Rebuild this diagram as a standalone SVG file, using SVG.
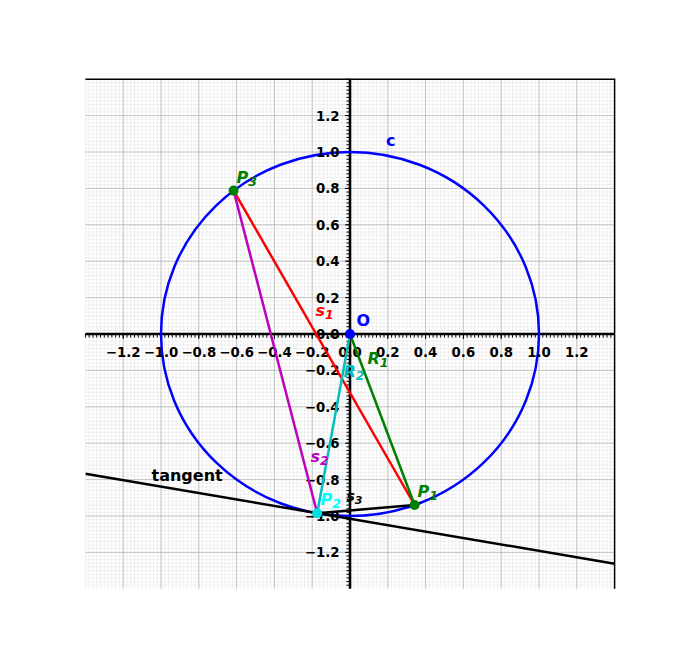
<svg xmlns="http://www.w3.org/2000/svg" xmlns:xlink="http://www.w3.org/1999/xlink" width="683" height="661" viewBox="0 0 683 661">
<style>
.mg{stroke:#e2e2e2;stroke-width:0.5;fill:none}
.Mg{stroke:#b8b8b8;stroke-width:0.8;fill:none}
.tk{stroke:#000;stroke-width:1;fill:none}
.tl{font-family:"DejaVu Sans",sans-serif;font-weight:bold;font-size:13.3px;fill:#000}
.xl{text-anchor:middle}
.yl{text-anchor:end}
.lb{font-family:"DejaVu Sans",sans-serif;font-weight:bold;font-size:16px}
.it{font-style:italic}
.sb{font-size:12.5px}
.seg{stroke-width:2.5;fill:none;stroke-linecap:butt}
</style>
<defs>
<clipPath id="ax"><rect x="85.4" y="79.2" width="529.2" height="509.6"/></clipPath>
<path id="mx" d="M0 0v509.6M3.78 0v509.6M7.56 0v509.6M11.34 0v509.6M15.12 0v509.6M18.9 0v509.6M22.68 0v509.6M26.46 0v509.6M30.24 0v509.6M34.02 0v509.6"/>
<path id="my" d="M0 0h529.2M0 3.64h529.2M0 7.28h529.2M0 10.92h529.2M0 14.56h529.2M0 18.2h529.2M0 21.84h529.2M0 25.48h529.2M0 29.12h529.2M0 32.76h529.2"/>
<path id="tx" d="M0 0v3.5M3.78 0v3.5M7.56 0v3.5M11.34 0v3.5M15.12 0v3.5M18.9 0v3.5M22.68 0v3.5M26.46 0v3.5M30.24 0v3.5M34.02 0v3.5"/>
<path id="ty" d="M0 0h-3.5M0 3.64h-3.5M0 7.28h-3.5M0 10.92h-3.5M0 14.56h-3.5M0 18.2h-3.5M0 21.84h-3.5M0 25.48h-3.5M0 29.12h-3.5M0 32.76h-3.5"/>
</defs>
<rect width="683" height="661" fill="#fff"/>
<g id="grid">
<g class="mg">
<use xlink:href="#mx" x="85.4" y="79.2"/><use xlink:href="#mx" x="123.2" y="79.2"/><use xlink:href="#mx" x="161" y="79.2"/><use xlink:href="#mx" x="198.8" y="79.2"/><use xlink:href="#mx" x="236.6" y="79.2"/><use xlink:href="#mx" x="274.4" y="79.2"/><use xlink:href="#mx" x="312.2" y="79.2"/><use xlink:href="#mx" x="350" y="79.2"/><use xlink:href="#mx" x="387.8" y="79.2"/><use xlink:href="#mx" x="425.6" y="79.2"/><use xlink:href="#mx" x="463.4" y="79.2"/><use xlink:href="#mx" x="501.2" y="79.2"/><use xlink:href="#mx" x="539" y="79.2"/><use xlink:href="#mx" x="576.8" y="79.2"/>
<use xlink:href="#my" x="85.4" y="79.2"/><use xlink:href="#my" x="85.4" y="115.6"/><use xlink:href="#my" x="85.4" y="152"/><use xlink:href="#my" x="85.4" y="188.4"/><use xlink:href="#my" x="85.4" y="224.8"/><use xlink:href="#my" x="85.4" y="261.2"/><use xlink:href="#my" x="85.4" y="297.6"/><use xlink:href="#my" x="85.4" y="334"/><use xlink:href="#my" x="85.4" y="370.4"/><use xlink:href="#my" x="85.4" y="406.8"/><use xlink:href="#my" x="85.4" y="443.2"/><use xlink:href="#my" x="85.4" y="479.6"/><use xlink:href="#my" x="85.4" y="516"/><use xlink:href="#my" x="85.4" y="552.4"/>
</g>
<path class="Mg" d="M123.2 79.2V588.8M161 79.2V588.8M198.8 79.2V588.8M236.6 79.2V588.8M274.4 79.2V588.8M312.2 79.2V588.8M387.8 79.2V588.8M425.6 79.2V588.8M463.4 79.2V588.8M501.2 79.2V588.8M539 79.2V588.8M576.8 79.2V588.8M85.4 115.6H614.6M85.4 152H614.6M85.4 188.4H614.6M85.4 224.8H614.6M85.4 261.2H614.6M85.4 297.6H614.6M85.4 370.4H614.6M85.4 406.8H614.6M85.4 443.2H614.6M85.4 479.6H614.6M85.4 516H614.6M85.4 552.4H614.6"/>
</g>
<g id="axes">
<path d="M85.4 334H614.6M350 79.2V588.8" stroke="#000" stroke-width="2.6" fill="none"/>
<g class="tk" stroke-width="0.8">
<use xlink:href="#tx" x="85.4" y="334"/><use xlink:href="#tx" x="123.2" y="334"/><use xlink:href="#tx" x="161" y="334"/><use xlink:href="#tx" x="198.8" y="334"/><use xlink:href="#tx" x="236.6" y="334"/><use xlink:href="#tx" x="274.4" y="334"/><use xlink:href="#tx" x="312.2" y="334"/><use xlink:href="#tx" x="350" y="334"/><use xlink:href="#tx" x="387.8" y="334"/><use xlink:href="#tx" x="425.6" y="334"/><use xlink:href="#tx" x="463.4" y="334"/><use xlink:href="#tx" x="501.2" y="334"/><use xlink:href="#tx" x="539" y="334"/><use xlink:href="#tx" x="576.8" y="334"/>
<use xlink:href="#ty" x="350" y="79.2"/><use xlink:href="#ty" x="350" y="115.6"/><use xlink:href="#ty" x="350" y="152"/><use xlink:href="#ty" x="350" y="188.4"/><use xlink:href="#ty" x="350" y="224.8"/><use xlink:href="#ty" x="350" y="261.2"/><use xlink:href="#ty" x="350" y="297.6"/><use xlink:href="#ty" x="350" y="334"/><use xlink:href="#ty" x="350" y="370.4"/><use xlink:href="#ty" x="350" y="406.8"/><use xlink:href="#ty" x="350" y="443.2"/><use xlink:href="#ty" x="350" y="479.6"/><use xlink:href="#ty" x="350" y="516"/><use xlink:href="#ty" x="350" y="552.4"/>
</g>
<path class="tk" d="M123.2 334v5M161 334v5M198.8 334v5M236.6 334v5M274.4 334v5M312.2 334v5M350 334v5M387.8 334v5M425.6 334v5M463.4 334v5M501.2 334v5M539 334v5M576.8 334v5M350 115.6h-5M350 152h-5M350 188.4h-5M350 224.8h-5M350 261.2h-5M350 297.6h-5M350 334h-5M350 370.4h-5M350 406.8h-5M350 443.2h-5M350 479.6h-5M350 516h-5M350 552.4h-5"/>
</g>
<g id="circle-c">
<ellipse cx="350" cy="334" rx="189" ry="182" fill="none" stroke="#0000ff" stroke-width="2.5"/>
</g>
<g id="ticklabels" class="tl">
<g class="xl">
<text x="123.2" y="356.5">−1.2</text><text x="161" y="356.5">−1.0</text><text x="198.8" y="356.5">−0.8</text><text x="236.6" y="356.5">−0.6</text><text x="274.4" y="356.5">−0.4</text><text x="312.2" y="356.5">−0.2</text><text x="350" y="356.5">0.0</text><text x="387.8" y="356.5">0.2</text><text x="425.6" y="356.5">0.4</text><text x="463.4" y="356.5">0.6</text><text x="501.2" y="356.5">0.8</text><text x="539" y="356.5">1.0</text><text x="576.8" y="356.5">1.2</text>
</g>
<g class="yl">
<text x="339.5" y="120.5">1.2</text><text x="339.5" y="156.9">1.0</text><text x="339.5" y="193.3">0.8</text><text x="339.5" y="229.7">0.6</text><text x="339.5" y="266.1">0.4</text><text x="339.5" y="302.5">0.2</text><text x="339.5" y="338.9">0.0</text><text x="339.5" y="375.3">−0.2</text><text x="339.5" y="411.7">−0.4</text><text x="339.5" y="448.1">−0.6</text><text x="339.5" y="484.5">−0.8</text><text x="339.5" y="520.9">−1.0</text><text x="339.5" y="557.3">−1.2</text>
</g>
</g>
<g id="connectors" clip-path="url(#ax)">
<line id="tangent" x1="85.4" y1="473.8" x2="614.6" y2="563.7" class="seg" stroke="#000"/>
<line id="s1" x1="233.6" y1="190.6" x2="414.6" y2="505" class="seg" stroke="#ff0000"/>
<line id="s2" x1="233.6" y1="190.6" x2="317.2" y2="513.2" class="seg" stroke="#bf00bf"/>
<line id="s3" x1="317.2" y1="513.2" x2="414.6" y2="505" class="seg" stroke="#000"/>
<line id="R1" x1="350" y1="334" x2="414.6" y2="505" class="seg" stroke="#008000"/>
<line id="R2" x1="350" y1="334" x2="317.2" y2="513.2" class="seg" stroke="#00bfbf"/>
</g>
<g id="O"><circle cx="350" cy="334" r="5" fill="#0000ff"/><text class="lb" x="356.5" y="326" fill="#0000ff">O</text></g>
<g id="P1"><circle cx="414.6" cy="505" r="5" fill="#008000"/><text class="lb it" x="417.5" y="497.3" fill="#008000">P<tspan class="sb" dy="3">1</tspan></text></g>
<g id="P2"><circle cx="317.2" cy="513.2" r="5" fill="#00e0e0"/><text class="lb it" x="320.5" y="505" fill="#00ffff">P<tspan class="sb" dy="3">2</tspan></text></g>
<g id="P3"><circle cx="233.6" cy="190.6" r="5" fill="#008000"/><text class="lb it" x="236.5" y="183" fill="#008000">P<tspan class="sb" dy="3">3</tspan></text></g>
<g id="labels">
<text class="lb" x="386" y="146" fill="#0000ff">c</text>
<text class="lb it" x="315.5" y="316" fill="#ff0000">s<tspan class="sb" dy="3">1</tspan></text>
<text class="lb it" x="310.5" y="461.7" fill="#bf00bf">s<tspan class="sb" dy="3">2</tspan></text>
<text x="346.5" y="501" font-family="DejaVu Sans,sans-serif" font-weight="bold" font-size="14px" font-style="italic" fill="#000">s<tspan font-size="11px" dy="3">3</tspan></text>
<text class="lb it" x="367.5" y="364" fill="#008000">R<tspan class="sb" dy="3">1</tspan></text>
<text class="lb it" x="343.5" y="376.5" fill="#00bfbf">R<tspan class="sb" dy="3">2</tspan></text>
<text class="lb" x="151.5" y="480.5" fill="#000">tangent</text>
</g>
<path id="spines" d="M85.4 79.2H614.6V588.8" stroke="#000" stroke-width="1.5" fill="none"/>
</svg>
